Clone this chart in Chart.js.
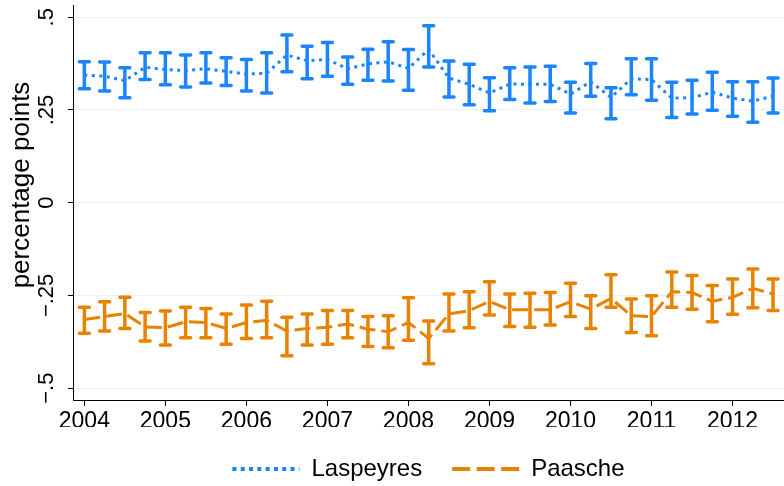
<!DOCTYPE html>
<html>
<head>
<meta charset="utf-8">
<script src="https://cdn.jsdelivr.net/npm/chart.js@4.4.1/dist/chart.umd.min.js"></script>
<style>
    html, body { margin: 0; padding: 0; background: #fff; }
    #wrap { width: 784px; height: 486px; }
</style>
</head>
<body>
<div id="wrap"><canvas id="indexChart" width="784" height="486"></canvas></div>
<script>
// Quarters shown on the x axis
const quarters = [
    '2004q1', '2004q2', '2004q3', '2004q4', '2005q1', '2005q2', '2005q3', '2005q4',
    '2006q1', '2006q2', '2006q3', '2006q4', '2007q1', '2007q2', '2007q3', '2007q4',
    '2008q1', '2008q2', '2008q3', '2008q4', '2009q1', '2009q2', '2009q3', '2009q4',
    '2010q1', '2010q2', '2010q3', '2010q4', '2011q1', '2011q2', '2011q3', '2011q4',
    '2012q1', '2012q2', '2012q3'
];

// Laspeyres: estimate and confidence interval
const laspeyres = [0.344, 0.341, 0.329, 0.365, 0.359, 0.356, 0.361, 0.354, 0.347, 0.349, 0.398, 0.383,
    0.386, 0.361, 0.374, 0.380, 0.362, 0.413, 0.336, 0.319, 0.296, 0.320, 0.319, 0.319,
    0.293, 0.326, 0.284, 0.334, 0.332, 0.282, 0.283, 0.298, 0.282, 0.274, 0.287];
const laspeyresLow = [0.307, 0.301, 0.283, 0.332, 0.318, 0.312, 0.323, 0.316, 0.301, 0.296, 0.353, 0.334,
    0.341, 0.319, 0.330, 0.328, 0.303, 0.366, 0.285, 0.264, 0.248, 0.278, 0.269, 0.273,
    0.242, 0.287, 0.226, 0.291, 0.276, 0.230, 0.239, 0.249, 0.233, 0.217, 0.242];
const laspeyresHigh = [0.380, 0.379, 0.364, 0.404, 0.404, 0.398, 0.404, 0.391, 0.386, 0.404, 0.452, 0.422,
    0.432, 0.393, 0.414, 0.434, 0.413, 0.477, 0.382, 0.373, 0.337, 0.364, 0.366, 0.368,
    0.325, 0.375, 0.310, 0.388, 0.388, 0.325, 0.330, 0.352, 0.326, 0.326, 0.336];

// Paasche: estimate and confidence interval
const paasche = [-0.315, -0.307, -0.299, -0.335, -0.337, -0.321, -0.323, -0.339, -0.323, -0.317, -0.346, -0.339,
    -0.336, -0.327, -0.341, -0.348, -0.323, -0.366, -0.300, -0.291, -0.266, -0.289, -0.289, -0.289,
    -0.267, -0.287, -0.258, -0.305, -0.307, -0.240, -0.242, -0.266, -0.255, -0.231, -0.246];
const paascheLow = [-0.352, -0.346, -0.339, -0.373, -0.384, -0.364, -0.364, -0.382, -0.366, -0.364, -0.413, -0.384,
    -0.382, -0.364, -0.388, -0.391, -0.371, -0.434, -0.346, -0.337, -0.303, -0.334, -0.336, -0.330,
    -0.307, -0.339, -0.282, -0.350, -0.359, -0.282, -0.287, -0.321, -0.301, -0.283, -0.291];
const paascheHigh = [-0.282, -0.267, -0.255, -0.296, -0.292, -0.282, -0.285, -0.300, -0.276, -0.266, -0.309, -0.300,
    -0.291, -0.291, -0.307, -0.305, -0.256, -0.319, -0.246, -0.240, -0.213, -0.246, -0.244, -0.242,
    -0.217, -0.251, -0.194, -0.260, -0.251, -0.187, -0.196, -0.223, -0.206, -0.179, -0.206];

// Axis ticks
const xTickYears = [2004, 2005, 2006, 2007, 2008, 2009, 2010, 2011, 2012];
const yTickValues = [-0.5, -0.25, 0, 0.25, 0.5];
const yTickLabels = ['\u2212.5', '\u2212.25', '0', '.25', '.5'];
const yTitle = 'percentage points';

const BLUE = '#1a85ff';
const ORANGE = '#e88200';
const FONT = '"Liberation Sans", Arial, sans-serif';
const legendDashes = [[4, 4.3], [18, 6.5]];

// '2004q3' -> 2004.5
function quarterToYear(q) {
    const parts = q.split('q');
    return Number(parts[0]) + (Number(parts[1]) - 1) / 4;
}
const xs = quarters.map(quarterToYear);

function points(values) {
    return values.map((v, i) => ({ x: xs[i], y: v }));
}

// Draws capped error bars for each series
const errorBars = {
    id: 'errorBars',
    afterDatasetsDraw(chart) {
        const ctx = chart.ctx;
        const xScale = chart.scales.x;
        const yScale = chart.scales.y;
        const series = [
            { low: laspeyresLow, high: laspeyresHigh, color: BLUE },
            { low: paascheLow, high: paascheHigh, color: ORANGE }
        ];
        ctx.save();
        ctx.lineWidth = 3.5;
        ctx.lineCap = 'round';
        series.forEach(s => {
            ctx.strokeStyle = s.color;
            s.low.forEach((lo, i) => {
                const px = xScale.getPixelForValue(xs[i]);
                const yLo = yScale.getPixelForValue(lo);
                const yHi = yScale.getPixelForValue(s.high[i]);
                ctx.beginPath();
                ctx.moveTo(px, yLo);
                ctx.lineTo(px, yHi);
                ctx.moveTo(px - 5, yLo);
                ctx.lineTo(px + 5, yLo);
                ctx.moveTo(px - 5, yHi);
                ctx.lineTo(px + 5, yHi);
                ctx.stroke();
            });
        });
        ctx.restore();
    }
};

// Vertical y tick labels and axis title, Stata style
const yLabels = {
    id: 'yLabels',
    afterDraw(chart) {
        const ctx = chart.ctx;
        const yScale = chart.scales.y;
        ctx.save();
        ctx.fillStyle = '#000';
        ctx.textAlign = 'center';
        ctx.textBaseline = 'alphabetic';
        ctx.font = '22px ' + FONT;
        yTickValues.forEach((v, i) => {
            const py = yScale.getPixelForValue(v);
            ctx.save();
            ctx.translate(53, py);
            ctx.rotate(-Math.PI / 2);
            ctx.fillText(yTickLabels[i], 0, 0);
            ctx.restore();
        });
        ctx.font = '26px ' + FONT;
        ctx.translate(29, 185);
        ctx.rotate(-Math.PI / 2);
        ctx.fillText(yTitle, 0, 0);
        ctx.restore();
    }
};

// Fixed legend height so the legend sits low under the axis
const legendHeight = {
    id: 'legendHeight',
    beforeInit(chart) {
        const fit = chart.legend.fit;
        chart.legend.fit = function() {
            fit.bind(chart.legend)();
            this.height = 59;
        };
    }
};

document.addEventListener('DOMContentLoaded', function() {
    const ctx = document.getElementById('indexChart').getContext('2d');
    new Chart(ctx, {
        type: 'line',
        data: {
            datasets: [
                {
                    label: 'Laspeyres',
                    data: points(laspeyres),
                    borderColor: BLUE,
                    backgroundColor: BLUE,
                    borderWidth: 3,
                    borderDash: [3, 4.5],
                    pointRadius: 0,
                    tension: 0,
                    fill: false
                },
                {
                    label: 'Paasche',
                    data: points(paasche),
                    borderColor: ORANGE,
                    backgroundColor: ORANGE,
                    borderWidth: 3,
                    borderDash: [16, 6],
                    pointRadius: 0,
                    tension: 0,
                    fill: false
                }
            ]
        },
        options: {
            responsive: false,
            maintainAspectRatio: false,
            devicePixelRatio: 1,
            animation: false,
            layout: {
                padding: { top: 5, left: 0, right: 0, bottom: 0 }
            },
            plugins: {
                legend: {
                    display: true,
                    position: 'bottom',
                    fullSize: false,
                    labels: {
                        usePointStyle: true,
                        pointStyle: 'line',
                        pointStyleWidth: 67,
                        color: '#000',
                        padding: 30,
                        font: { family: FONT, size: 24 },
                        generateLabels: function(chart) {
                            return chart.data.datasets.map((ds, i) => ({
                                text: ds.label,
                                fillStyle: ds.borderColor,
                                strokeStyle: ds.borderColor,
                                fontColor: '#000',
                                lineWidth: 4,
                                lineCap: 'butt',
                                lineDash: legendDashes[i],
                                pointStyle: 'line',
                                hidden: false,
                                datasetIndex: i
                            }));
                        }
                    }
                },
                tooltip: { enabled: false }
            },
            scales: {
                x: {
                    type: 'linear',
                    min: 2003.86,
                    max: 2012.635,
                    afterBuildTicks: function(scale) {
                        scale.ticks = xTickYears.map(v => ({ value: v }));
                    },
                    afterFit: function(scale) {
                        scale.height = 27;
                    },
                    ticks: {
                        color: '#000',
                        padding: 2,
                        maxRotation: 0,
                        autoSkip: false,
                        font: { family: FONT, size: 23 },
                        callback: function(value) {
                            return String(value);
                        }
                    },
                    grid: {
                        drawOnChartArea: false,
                        tickLength: 6,
                        tickColor: '#000',
                        tickWidth: 1
                    },
                    border: { display: true, color: '#000', width: 1 }
                },
                y: {
                    min: -0.532,
                    max: 0.533,
                    afterBuildTicks: function(scale) {
                        scale.ticks = yTickValues.map(v => ({ value: v }));
                    },
                    afterFit: function(scale) {
                        scale.width = 73;
                    },
                    ticks: { display: false },
                    grid: {
                        color: '#eaf0f3',
                        lineWidth: 1,
                        tickLength: 5,
                        tickColor: '#000',
                        tickWidth: 1
                    },
                    border: { display: true, color: '#000', width: 1 }
                }
            }
        },
        plugins: [errorBars, yLabels, legendHeight]
    });
});
</script>
</body>
</html>
